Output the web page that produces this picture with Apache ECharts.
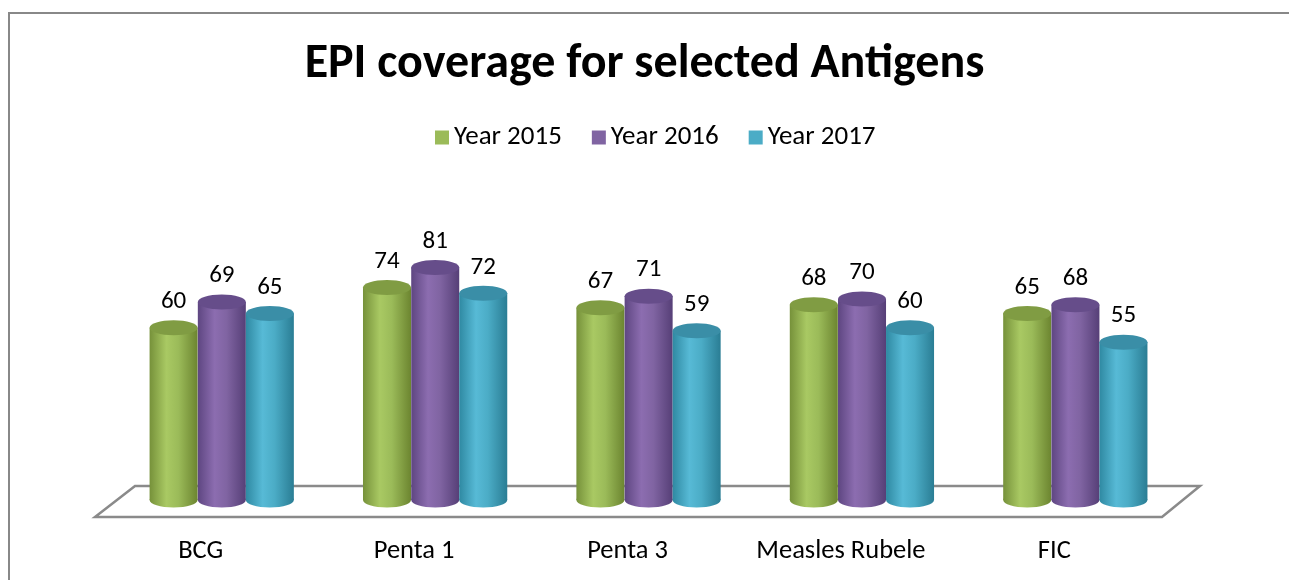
<!DOCTYPE html>
<html><head><meta charset="utf-8">
<script src="https://cdn.jsdelivr.net/npm/echarts@6/dist/echarts.min.js"></script>
<style>html,body{margin:0;padding:0;background:#fff}#c{width:1289px;height:580px}</style>
</head><body><div id="c"></div>
<script>
const categories = ['BCG', 'Penta 1', 'Penta 3', 'Measles Rubele', 'FIC'];
const seriesNames = ['Year 2015', 'Year 2016', 'Year 2017'];
const year2015 = [60, 74, 67, 68, 65];
const year2016 = [69, 81, 71, 70, 68];
const year2017 = [65, 72, 59, 60, 55];

const FONT = 'Carlito, "Open Sans", Lato, sans-serif';
const palettes = [
  {base:'#9BBB59', edgeL:'#76913a', light:'#a9c963', edgeR:'#6c8530', top:'#809c43'},
  {base:'#8064A2', edgeL:'#5e4681', light:'#8c6db0', edgeR:'#563f77', top:'#664d8a'},
  {base:'#4BACC6', edgeL:'#2f89a2', light:'#57bad6', edgeR:'#2a7d94', top:'#3a8ea7'}
];
const offsets = [-0.127, 0.099, 0.324];
const widthFrac = 0.225;

function makeRender(si) {
  return function (params, api) {
    const cat = api.value(0), val = api.value(1);
    const top = api.coord([cat, val]);
    const base = api.coord([cat, 0]);
    const bw = api.size([1, 0])[0];
    const cx = top[0] + offsets[si] * bw;
    const rx = widthFrac * bw / 2;
    const ry = 7.5;
    const p = palettes[si];
    const grad = new echarts.graphic.LinearGradient(0, 0, 1, 0, [
      {offset: 0, color: p.edgeL},
      {offset: 0.35, color: p.light},
      {offset: 0.6, color: p.base},
      {offset: 1, color: p.edgeR}
    ]);
    return {
      type: 'group',
      children: [
        {type: 'ellipse', shape: {cx: cx, cy: base[1], rx: rx, ry: ry}, style: {fill: grad}},
        {type: 'rect', shape: {x: cx - rx, y: top[1], width: rx * 2, height: base[1] - top[1]}, style: {fill: grad}},
        {type: 'ellipse', shape: {cx: cx, cy: top[1], rx: rx, ry: ry}, style: {fill: p.top}},
        {type: 'text', style: {text: String(val), x: cx, y: top[1] - 26, align: 'center', verticalAlign: 'middle', fontSize: 25, fontFamily: FONT, fill: '#000'}}
      ]
    };
  };
}

const allData = [year2015, year2016, year2017];
const chart = echarts.init(document.getElementById('c'));
chart.setOption({
  backgroundColor: '#fff',
  animation: false,
  title: {text: 'EPI coverage for selected Antigens', left: 'center', top: 36,
    textStyle: {fontSize: 48, fontWeight: 'bold', fontFamily: FONT, color: '#000'}},
  legend: {top: 119, left: 430, itemWidth: 14, itemHeight: 14, itemGap: 30, icon: 'rect',
    textStyle: {fontSize: 27, fontFamily: FONT, color: '#000'}, data: seriesNames},
  grid: {left: 94, right: 128, top: 213, bottom: 80},
  xAxis: {type: 'category', data: categories, axisLine: {show: false}, axisTick: {show: false},
    axisLabel: {interval: 0, hideOverlap: false, margin: 38, fontSize: 26.5, fontFamily: FONT, color: '#000'}},
  yAxis: {type: 'value', min: 0, max: 100, show: false},
  graphic: [
    {type: 'rect', z: 0, shape: {x: 9, y: 13, width: 1300, height: 600}, style: {fill: 'none', stroke: '#888', lineWidth: 2}},
    {type: 'polygon', z: 0, shape: {points: [[135, 486], [1200, 486], [1162, 517], [95, 517]]}, style: {fill: '#fff', stroke: '#8a8a8a', lineWidth: 2.5}}
  ],
  series: allData.map((arr, si) => ({
    type: 'custom', name: seriesNames[si], z: 5,
    itemStyle: {color: palettes[si].base},
    renderItem: makeRender(si),
    data: arr.map((v, i) => [i, v])
  }))
});
</script></body></html>
